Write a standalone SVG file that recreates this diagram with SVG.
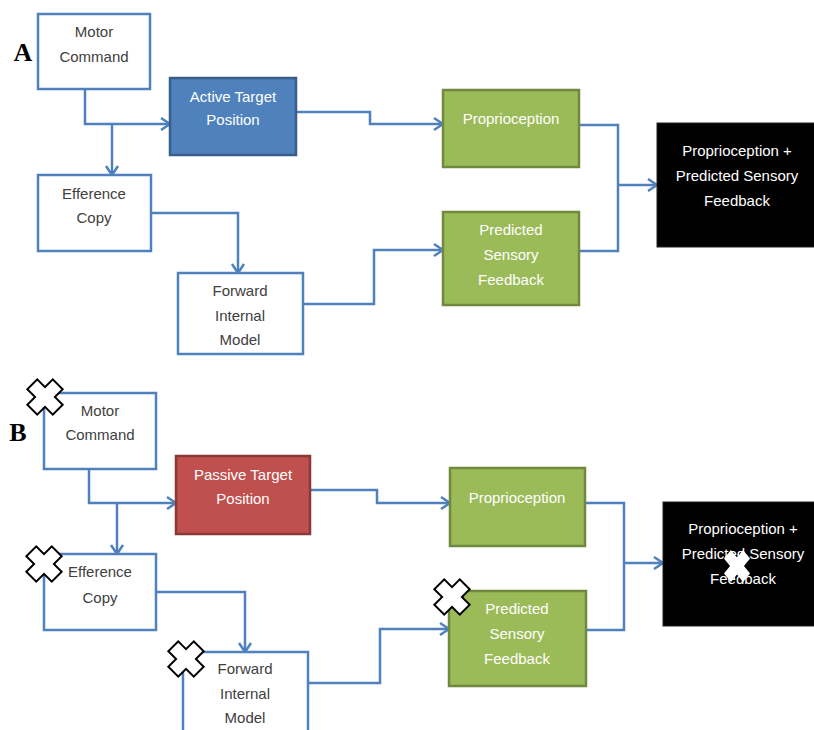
<svg xmlns="http://www.w3.org/2000/svg" xmlns:xlink="http://www.w3.org/1999/xlink" width="814" height="730" viewBox="0 0 814 730">
<style>
.wbox{fill:#fff;stroke:#4F81BD;stroke-width:2.5}
.blue{fill:#4F81BD;stroke:#385D8A;stroke-width:2.5}
.red{fill:#C0504D;stroke:#8C3836;stroke-width:2.5}
.green{fill:#9BBB59;stroke:#71893F;stroke-width:2.5}
.black{fill:#000;stroke:#222;stroke-width:1}
.con{fill:none;stroke:#4F81BD;stroke-width:2.5}
text{font-family:"Liberation Sans",Arial,sans-serif;font-size:15px;text-anchor:middle}
.dk{fill:#404040}
.wt{fill:#fff}
.lbl{font-family:"Liberation Serif","Times New Roman",serif;font-size:26px;font-weight:bold;fill:#000;text-anchor:middle}
</style>
<defs>
<marker id="arr" markerUnits="userSpaceOnUse" markerWidth="14" markerHeight="16" refX="11" refY="8" orient="auto">
<path d="M2,2 L11,8 L2,14" fill="none" stroke="#4F81BD" stroke-width="2.5"/>
</marker>
<g id="xo">
<rect x="-6" y="-17" width="12" height="34" transform="rotate(45)" fill="none" stroke="#000" stroke-width="4"/>
<rect x="-6" y="-17" width="12" height="34" transform="rotate(-45)" fill="none" stroke="#000" stroke-width="4"/>
<rect x="-6" y="-17" width="12" height="34" transform="rotate(45)" fill="#fff"/>
<rect x="-6" y="-17" width="12" height="34" transform="rotate(-45)" fill="#fff"/>
</g>
<g id="xw">
<g transform="scale(0.9,1.1)">
<rect x="-5.5" y="-15" width="11" height="30" transform="rotate(45)" fill="#fff"/>
<rect x="-5.5" y="-15" width="11" height="30" transform="rotate(-45)" fill="#fff"/>
</g>
</g>
</defs>

<text class="lbl" x="23" y="61">A</text>
<text class="lbl" x="18" y="441">B</text>

<g id="connectors">
<!-- Panel A -->
<path class="con" d="M85,89 V124 H170" marker-end="url(#arr)"/>
<path class="con" d="M112,124 V175" marker-end="url(#arr)"/>
<path class="con" d="M151,213 H238 V273" marker-end="url(#arr)"/>
<path class="con" d="M296,112 H370 V124 H443" marker-end="url(#arr)"/>
<path class="con" d="M303,304 H374 V250 H443" marker-end="url(#arr)"/>
<path class="con" d="M579,125 H618 V251 H579"/>
<path class="con" d="M618,185 H657" marker-end="url(#arr)"/>
<!-- Panel B -->
<path class="con" d="M89,469 V503 H176" marker-end="url(#arr)"/>
<path class="con" d="M117,503 V554" marker-end="url(#arr)"/>
<path class="con" d="M156,592 H245 V652" marker-end="url(#arr)"/>
<path class="con" d="M310,490 H377 V503 H450" marker-end="url(#arr)"/>
<path class="con" d="M308,683 H380 V629 H449" marker-end="url(#arr)"/>
<path class="con" d="M585,503 H624 V630 H586"/>
<path class="con" d="M624,563 H663" marker-end="url(#arr)"/>
</g>

<g id="a-motor">
<rect class="wbox" x="38" y="14" width="112" height="75"/>
<text class="dk" x="94" y="37">Motor</text>
<text class="dk" x="94" y="62">Command</text>
</g>
<g id="a-active">
<rect class="blue" x="170" y="78" width="126" height="77"/>
<text class="wt" x="233" y="102">Active Target</text>
<text class="wt" x="233" y="125">Position</text>
</g>
<g id="a-efference">
<rect class="wbox" x="38" y="175" width="113" height="76"/>
<text class="dk" x="94" y="199">Efference</text>
<text class="dk" x="94" y="223">Copy</text>
</g>
<g id="a-forward">
<rect class="wbox" x="178" y="273" width="125" height="81"/>
<text class="dk" x="240" y="296">Forward</text>
<text class="dk" x="240" y="321">Internal</text>
<text class="dk" x="240" y="345">Model</text>
</g>
<g id="a-proprio">
<rect class="green" x="443" y="90" width="136" height="77"/>
<text class="wt" x="511" y="124">Proprioception</text>
</g>
<g id="a-predicted">
<rect class="green" x="443" y="212" width="136" height="93"/>
<text class="wt" x="511" y="235">Predicted</text>
<text class="wt" x="511" y="260">Sensory</text>
<text class="wt" x="511" y="285">Feedback</text>
</g>
<g id="a-combined">
<rect class="black" x="657" y="123" width="160" height="124"/>
<text class="wt" x="737" y="156">Proprioception +</text>
<text class="wt" x="737" y="181">Predicted Sensory</text>
<text class="wt" x="737" y="206">Feedback</text>
</g>

<g id="b-motor">
<rect class="wbox" x="44" y="393" width="112" height="76"/>
<text class="dk" x="100" y="416">Motor</text>
<text class="dk" x="100" y="440">Command</text>
<use xlink:href="#xo" x="45" y="397"/>
</g>
<g id="b-passive">
<rect class="red" x="176" y="456" width="134" height="78"/>
<text class="wt" x="243" y="480">Passive Target</text>
<text class="wt" x="243" y="504">Position</text>
</g>
<g id="b-efference">
<rect class="wbox" x="44" y="554" width="112" height="76"/>
<text class="dk" x="100" y="577">Efference</text>
<text class="dk" x="100" y="603">Copy</text>
<use xlink:href="#xo" x="44" y="564"/>
</g>
<g id="b-forward">
<rect class="wbox" x="183" y="652" width="125" height="100"/>
<text class="dk" x="245" y="674">Forward</text>
<text class="dk" x="245" y="699">Internal</text>
<text class="dk" x="245" y="723">Model</text>
<use xlink:href="#xo" x="186" y="659"/>
</g>
<g id="b-proprio">
<rect class="green" x="450" y="468" width="135" height="78"/>
<text class="wt" x="517" y="503">Proprioception</text>
</g>
<g id="b-predicted">
<rect class="green" x="449" y="591" width="137" height="95"/>
<text class="wt" x="517" y="614">Predicted</text>
<text class="wt" x="517" y="639">Sensory</text>
<text class="wt" x="517" y="664">Feedback</text>
<use xlink:href="#xo" x="452" y="597"/>
</g>
<g id="b-combined">
<rect class="black" x="663" y="502" width="160" height="124"/>
<text class="wt" x="743" y="534">Proprioception +</text>
<text class="wt" x="743" y="559">Predicted Sensory</text>
<text class="wt" x="743" y="584">Feedback</text>
<use xlink:href="#xw" x="737" y="566"/>
</g>
</svg>
